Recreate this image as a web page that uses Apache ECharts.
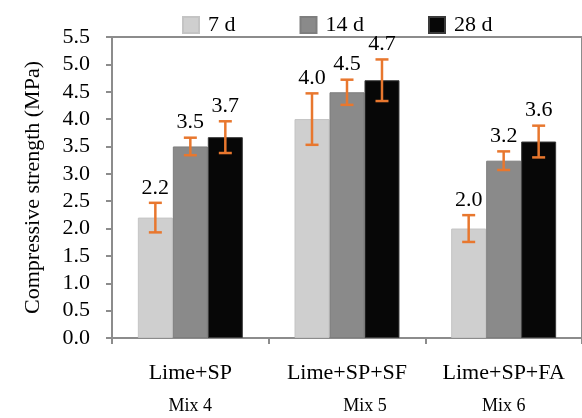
<!DOCTYPE html>
<html>
<head>
<meta charset="utf-8">
<script src="https://cdn.jsdelivr.net/npm/echarts@6/dist/echarts.min.js"></script>
<style>html,body{margin:0;padding:0;background:#fff}#c{width:582px;height:418px}</style>
</head>
<body>
<div id="c"></div>
<script>
var categories = ['Lime+SP', 'Lime+SP+SF', 'Lime+SP+FA'];
var mixLabels = ['Mix 4', 'Mix 5', 'Mix 6'];
var seriesNames = ['7 d', '14 d', '28 d'];
var values7 = [2.20, 4.00, 2.00];
var values14 = [3.50, 4.49, 3.24];
var values28 = [3.67, 4.71, 3.59];
var err7 = [0.27, 0.47, 0.245];
var err14 = [0.16, 0.23, 0.17];
var err28 = [0.29, 0.38, 0.29];
var yTicks = [0, 0.5, 1, 1.5, 2, 2.5, 3, 3.5, 4, 4.5, 5, 5.5];

var FONT = '"Liberation Serif", "Times New Roman", serif';
var colors = ['#CFCFCF', '#8A8A8A', '#070707'];
var borders = ['#C4C4C4', '#7E7E7E', '#3A3A3A'];
var allValues = [values7, values14, values28];
var allErr = [err7, err14, err28];
var catGap = 0.33;

var chart = echarts.init(document.getElementById('c'), null, {renderer: 'canvas'});

var series = [];
seriesNames.forEach(function (name, i) {
  series.push({
    name: name,
    type: 'bar',
    data: allValues[i],
    barGap: 0,
    barCategoryGap: (catGap * 100) + '%',
    itemStyle: {color: colors[i], borderColor: borders[i], borderWidth: 1},
    emphasis: {disabled: true}
  });
});
seriesNames.forEach(function (name, i) {
  series.push({
    type: 'custom',
    name: name + ' err',
    z: 5,
    data: allValues[i].map(function (v, k) { return [k, v, allErr[i][k]]; }),
    renderItem: function (params, api) {
      var k = api.value(0), v = api.value(1), e = api.value(2);
      var band = api.size([1, 0])[0];
      var bw = band * (1 - catGap) / 3;
      var c = api.coord([k, v]);
      var x = c[0] + (i - 1) * bw;
      var yTop = api.coord([k, v + e])[1];
      var yBot = api.coord([k, v - e])[1];
      var cap = 6.5;
      var st = {stroke: '#E8772E', lineWidth: 2.5};
      return {
        type: 'group',
        children: [
          {type: 'line', shape: {x1: x, y1: yTop, x2: x, y2: yBot}, style: st},
          {type: 'line', shape: {x1: x - cap, y1: yTop, x2: x + cap, y2: yTop}, style: st},
          {type: 'line', shape: {x1: x - cap, y1: yBot, x2: x + cap, y2: yBot}, style: st},
          {type: 'text', x: x, y: yTop - 4, style: {
            text: v.toFixed(1), font: '22px ' + FONT, fill: '#000',
            align: 'center', verticalAlign: 'bottom'
          }}
        ]
      };
    }
  });
});

chart.setOption({
  animation: false,
  grid: {left: 112, right: 0, top: 37, bottom: 80, show: true, borderColor: '#8C8C8C', borderWidth: 2, backgroundColor: 'transparent'},
  legend: {
    data: seriesNames,
    left: 177, top: 9,
    itemWidth: 16, itemHeight: 16, itemGap: 64,
    icon: 'rect',
    textStyle: {fontFamily: FONT, fontSize: 22, color: '#000', padding: [0, 0, 0, 4]}
  },
  xAxis: {
    type: 'category',
    data: categories,
    axisLine: {lineStyle: {color: '#8C8C8C', width: 2}},
    axisTick: {show: true, length: 6, lineStyle: {color: '#8C8C8C', width: 2}},
    axisLabel: {
      margin: 17,
      formatter: function (val, idx) {
        return '{a|' + val + '}\n{b' + idx + '|' + mixLabels[idx] + '}';
      },
      rich: {
        a: {fontFamily: FONT, fontSize: 22, color: '#000', lineHeight: 36},
        b0: {fontFamily: FONT, fontSize: 18, color: '#000', lineHeight: 30},
        b1: {fontFamily: FONT, fontSize: 18, color: '#000', lineHeight: 30, padding: [0, 0, 0, 36]},
        b2: {fontFamily: FONT, fontSize: 18, color: '#000', lineHeight: 30}
      }
    }
  },
  yAxis: {
    type: 'value',
    min: yTicks[0], max: yTicks[yTicks.length - 1], interval: 0.5,
    name: 'Compressive strength (MPa)',
    nameLocation: 'middle',
    nameGap: 68,
    nameTextStyle: {fontFamily: FONT, fontSize: 22, color: '#000'},
    axisLine: {show: true, lineStyle: {color: '#8C8C8C', width: 2}},
    axisTick: {show: true, length: 6, lineStyle: {color: '#8C8C8C', width: 2}},
    splitLine: {show: false},
    axisLabel: {
      margin: 22,
      fontFamily: FONT, fontSize: 22, color: '#000',
      formatter: function (v) { return v.toFixed(1); }
    }
  },
  series: series
});
</script>
</body>
</html>
